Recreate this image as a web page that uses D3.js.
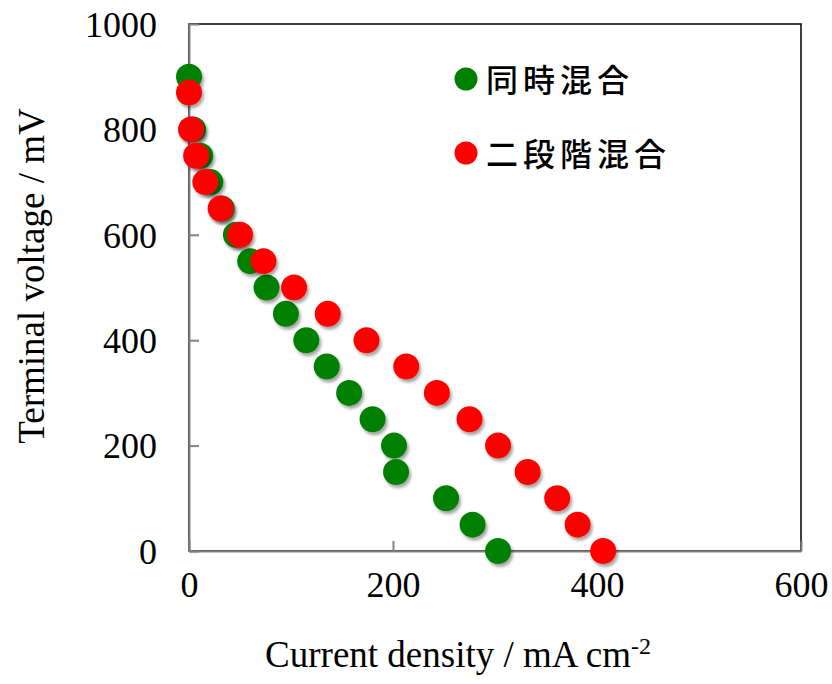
<!DOCTYPE html>
<html>
<head>
<meta charset="utf-8">
<script src="https://cdn.jsdelivr.net/npm/d3@7"></script>
<style>
	body { margin: 0; background: #fff; }
	.tick text { font-family: "Liberation Serif", "Times New Roman", serif; }
</style>
</head>
<body>
<svg id="chart" width="832" height="684"></svg>
<script>
// series 1: 同時混合
var names = ["同時混合", "二段階混合"];
var colors = ["#008000", "#ff0000"];
var simulX = [0, 4, 11, 21, 32, 46, 60, 76, 95, 115, 135, 157, 180, 201, 203, 252, 278, 303];
var simulY = [900, 800, 750, 700, 650, 600, 550, 500, 450, 400, 350, 300, 250, 200, 150, 100, 50, 0];
// series 2: 二段階混合
var twoStepX = [0, 2, 7, 16, 31, 50, 73, 103, 136, 174, 213, 243, 275, 303, 332, 361, 381, 406];
var twoStepY = [870, 800, 750, 700, 650, 600, 550, 500, 450, 400, 350, 300, 250, 200, 150, 100, 50, 0];
var xTicks = [0, 200, 400, 600];
var yTicks = [0, 200, 400, 600, 800, 1000];

(function () {
	var svg = d3.select("#chart");
	var margin = {top: 24, right: 31, bottom: 133, left: 189},
		width = +svg.attr("width") - margin.left - margin.right,
		height = +svg.attr("height") - margin.top - margin.bottom;

	// soft drop shadow under the markers
	var defs = svg.append("defs");
	var f = defs.append("filter").attr("id", "shadow")
		.attr("x", "-50%").attr("y", "-50%").attr("width", "200%").attr("height", "200%");
	f.append("feDropShadow")
		.attr("dx", 2).attr("dy", 3)
		.attr("stdDeviation", 1.8)
		.attr("flood-color", "#000")
		.attr("flood-opacity", 0.35);

	var g = svg.append("g").attr("transform", "translate(" + margin.left + "," + margin.top + ")");

	var x = d3.scaleLinear().domain([0, 600]).range([0, width]);
	var y = d3.scaleLinear().domain([0, 1000]).range([height, 0]);

	// plot frame
	g.append("rect")
		.attr("x", 0).attr("y", 0)
		.attr("width", width).attr("height", height)
		.attr("fill", "none")
		.attr("stroke", "#000")
		.attr("stroke-width", 1.5);

	var xAxis = g.append("g")
		.attr("class", "x axis")
		.attr("transform", "translate(0," + height + ")")
		.call(d3.axisBottom(x).tickValues(xTicks).tickFormat(d3.format("d"))
			.tickSizeInner(-10).tickSizeOuter(0).tickPadding(20));

	var yAxis = g.append("g")
		.attr("class", "y axis")
		.call(d3.axisLeft(y).tickValues(yTicks).tickFormat(d3.format("d"))
			.tickSizeInner(-10).tickSizeOuter(0).tickPadding(32));

	[xAxis, yAxis].forEach(function (a) {
		a.select(".domain").attr("stroke", "#808080").attr("stroke-width", 2);
		a.selectAll(".tick line").attr("stroke", "#808080").attr("stroke-width", 2);
		a.selectAll(".tick text").attr("font-size", "36px").attr("fill", "#000");
	});
	xAxis.selectAll(".tick text").attr("dy", "0.71em");
	yAxis.selectAll(".tick text").attr("dy", "0.34em");

	var series = [
		{name: names[0], color: colors[0], pts: simulX.map(function (d, i) { return [d, simulY[i]]; })},
		{name: names[1], color: colors[1], pts: twoStepX.map(function (d, i) { return [d, twoStepY[i]]; })}
	];

	series.forEach(function (s) {
		g.append("g")
			.attr("filter", "url(#shadow)")
			.selectAll("circle")
			.data(s.pts)
			.enter().append("circle")
			.attr("cx", function (d) { return x(d[0]); })
			.attr("cy", function (d) { return y(d[1]); })
			.attr("r", 13)
			.attr("fill", s.color);
	});

	// legend
	var legend = svg.append("g").attr("transform", "translate(466,79)");
	series.forEach(function (s, i) {
		var row = legend.append("g").attr("transform", "translate(0," + (i * 74) + ")");
		row.append("circle").attr("r", 11.5).attr("fill", s.color);
		row.append("text")
			.attr("x", 20)
			.attr("y", 13)
			.attr("font-family", "'Noto Sans CJK JP', sans-serif")
			.attr("font-size", "32px")
			.attr("font-weight", 500)
			.attr("letter-spacing", "5px")
			.attr("fill", "#000")
			.text(s.name);
	});

	// axis titles
	svg.append("text")
		.attr("x", 458)
		.attr("y", 667)
		.attr("text-anchor", "middle")
		.attr("font-family", "'Liberation Serif', serif")
		.attr("font-size", "37px")
		.attr("fill", "#000")
		.html("Current density / mA cm<tspan dy='-13' font-size='24px'>-2</tspan>");

	svg.append("text")
		.attr("transform", "translate(44,276) rotate(-90)")
		.attr("text-anchor", "middle")
		.attr("font-family", "'Liberation Serif', serif")
		.attr("font-size", "37px")
		.attr("fill", "#000")
		.text("Terminal voltage / mV");
}) ();
</script>
</body>
</html>
